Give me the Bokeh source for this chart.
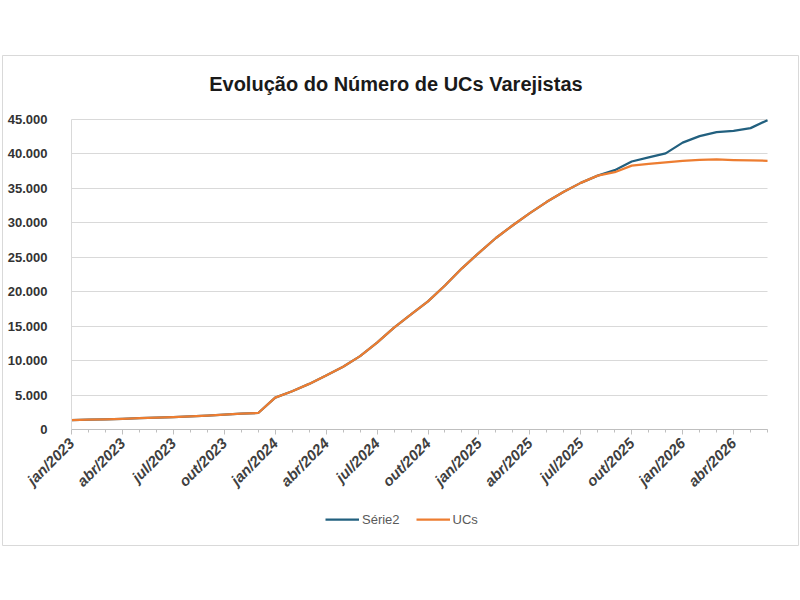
import math
from bokeh.plotting import figure
from bokeh.models import FixedTicker, Legend, LegendItem, Range1d, Label
from bokeh.embed import file_html
from bokeh.resources import INLINE

month_names = ["jan", "fev", "mar", "abr", "mai", "jun",
               "jul", "ago", "set", "out", "nov", "dez"]
years = [2023, 2024, 2025, 2026]
months = [f"{m}/{y}" for y in years for m in month_names][:42]

ucs = [1370, 1420, 1470, 1560, 1640, 1720, 1810, 1910, 2030, 2160, 2320, 2400,
       4620, 5550, 6620, 7850, 9120, 10650, 12600, 14800, 16700, 18600, 20900, 23400,
       25650, 27800, 29650, 31400, 33050, 34500, 35800, 36850, 37350, 38300, 38550, 38780,
       39000, 39150, 39200, 39120, 39060, 39000]
serie2 = [1370, 1420, 1470, 1560, 1640, 1720, 1810, 1910, 2030, 2160, 2320, 2400,
          4620, 5550, 6620, 7850, 9120, 10650, 12600, 14800, 16700, 18600, 20900, 23400,
          25650, 27800, 29650, 31400, 33050, 34500, 35800, 36850, 37650, 38900, 39500, 40080,
          41650, 42580, 43170, 43350, 43750, 44900]
y_ticks = [0, 5000, 10000, 15000, 20000, 25000, 30000, 35000, 40000, 45000]
y_labels = ["0", "5.000", "10.000", "15.000", "20.000", "25.000", "30.000",
            "35.000", "40.000", "45.000"]
title_text = "Evolução do Número de UCs Varejistas"

x = list(range(len(months)))
x_last = len(months) - 1
y_top = y_ticks[-1]

# the frame is the light grey chart box; plot area spans x 0..41, y 0..45000
p = figure(frame_width=796, frame_height=490, output_backend="svg",
           toolbar_location=None,
           x_range=Range1d(-4.065, 42.825), y_range=Range1d(-16839, 54290),
           min_border_left=2, min_border_right=2, min_border_top=55,
           min_border_bottom=55)
p.outline_line_color = "#d9d9d9"
p.outline_line_width = 1
p.background_fill_color = "white"
p.border_fill_color = "white"

p.xgrid.grid_line_color = None
grid = p.ygrid[0]
if "cross_bounds" in grid.properties():
    grid.ticker = FixedTicker(ticks=y_ticks)
    grid.cross_bounds = (0, x_last)
    grid.grid_line_color = "#d9d9d9"
else:
    grid.grid_line_color = None
    p.segment(x0=[0] * len(y_ticks), x1=[x_last] * len(y_ticks),
              y0=y_ticks, y1=y_ticks, line_color="#d9d9d9", line_width=1,
              level="underlay")

# x axis
xa = p.xaxis[0]
xa.fixed_location = 0
xa.bounds = (0, x_last)
xa.ticker = FixedTicker(ticks=[i for i in x if i % 3 == 0], minor_ticks=x)
xa.major_label_overrides = {i: months[i] for i in x if i % 3 == 0}
xa.major_label_orientation = math.pi / 4
xa.major_label_text_font = "Liberation Sans"
xa.major_label_text_font_style = "bold italic"
xa.major_label_text_font_size = "15px"
xa.major_label_text_color = "#404040"
xa.axis_line_color = "#bfbfbf"
xa.major_tick_line_color = "#bfbfbf"
xa.minor_tick_line_color = "#bfbfbf"
xa.major_tick_out = 5
xa.major_tick_in = 0
xa.minor_tick_out = 3
xa.minor_tick_in = 0
xa.major_label_standoff = 6

# y axis
ya = p.yaxis[0]
ya.fixed_location = 0
ya.bounds = (0, y_top)
ya.ticker = FixedTicker(ticks=y_ticks)
ya.major_label_overrides = dict(zip(y_ticks, y_labels))
ya.major_label_text_font = "Liberation Sans"
ya.major_label_text_font_style = "bold"
ya.major_label_text_font_size = "13px"
ya.major_label_text_color = "#333333"
ya.axis_line_color = "#d9d9d9"
ya.major_tick_line_color = None
ya.minor_tick_line_color = None
ya.major_label_standoff = 18

r2 = p.line(x, serie2, line_color="#22607f", line_width=2.25, line_join="round")
r1 = p.line(x, ucs, line_color="#ed7d31", line_width=2.25, line_join="round")

p.add_layout(Label(x=19.11, y=50081, text=title_text, text_align="center",
                   text_baseline="middle", text_font="Liberation Sans",
                   text_font_style="bold", text_font_size="20px",
                   text_color="#1a1a1a"))

legend = Legend(items=[LegendItem(label="Série2", renderers=[r2]),
                       LegendItem(label="UCs", renderers=[r1])],
                orientation="horizontal", location=(323, 16),
                border_line_color=None, background_fill_alpha=0,
                label_text_font="Liberation Sans", label_text_font_size="13px",
                label_text_color="#595959", glyph_width=34, glyph_height=20,
                label_height=20, label_standoff=3, spacing=16, padding=0,
                margin=0)
p.add_layout(legend, "center")

open("out.html", "w").write(file_html(p, INLINE))
